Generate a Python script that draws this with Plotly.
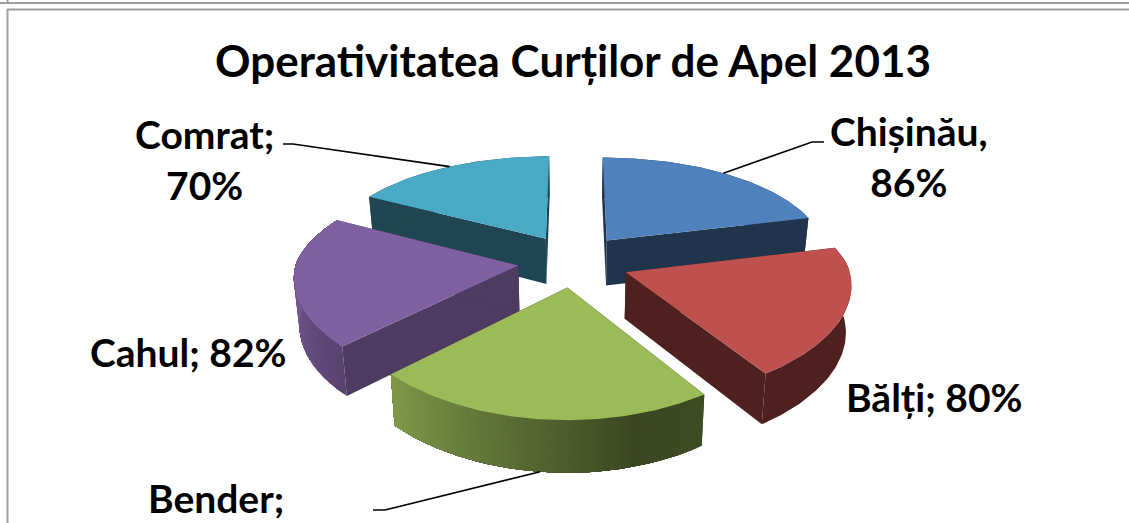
import numpy as np
import plotly.graph_objects as go

categories = ["Chișinău", "Bălți", "Bender", "Cahul", "Comrat"]
values = [86, 80, 90, 82, 70]  # Bender's value is cut off in the picture: estimated from its slice
title_text = "Operativitatea Curților de Apel 2013"
label_texts = ["Chișinău,<br>86%", "Bălți; 80%", "Bender;", "Cahul; 82%", "Comrat;<br>70%"]
top_colors = ["#4F81BD", "#BE504D", "#9BBB59", "#7F60A0", "#4AA9C5"]
draw_order = [4, 0, 3, 1, 2]
wall_stops = [
    ([0, 76], [0.41, 0.41]),
    ([76, 146], [0.41, 0.41]),
    ([146, 165, 226], [0.40, 0.38, 0.82]),
    ([226, 270, 298], [0.70, 0.92, 0.92]),
    ([298, 360], [0.41, 0.41]),
]
face_shade = [0.40, 0.41, 0.40, 0.61, 0.41]
slice_dy = [0, 3, 1, 2, 0]

label_pos = [(909, 156), (934, 397), (216, 498), (188, 352), (204, 159)]
leaders = {0: [(812, 142), (824, 142)], 2: [(385, 510), (373, 510)], 4: [(293, 144), (283, 144)]}

CX, CY, BX, BY, KX_BACK, KX_FRONT, KY = 573.5, 260, 222, 102, 0.14, 0.10, 0.16
EXPLODE, DEPTH, KD, CONVERGE = 0.25, 46, 0.10, 0.98


def project(X, Y, dy=0, bottom=False):
    X, Y = np.asarray(X, float), np.asarray(Y, float)
    kx = np.where(Y > 0, KX_BACK, KX_FRONT)
    sx = CX + BX * X / (1 + kx * Y)
    sy = CY + dy - BY * Y / (1 + KY * Y)
    if bottom:
        sx = CX + (sx - CX) * CONVERGE
        sy = sy + DEPTH / (1 + KD * Y)
    return sx, sy


def tint(hex_color, f):
    r, g, b = [int(hex_color[i:i + 2], 16) for i in (1, 3, 5)]
    return f"rgb({round(r * f)},{round(g * f)},{round(b * f)})"


def poly(xs, ys, color):
    return go.Scatter(x=list(xs), y=list(ys), mode="lines", fill="toself", fillcolor=color,
                      line=dict(color=color, width=0), hoverinfo="skip", showlegend=False)


edges = np.concatenate([[0], np.cumsum(values)]) / np.sum(values) * 360
fig = go.Figure()

for i in draw_order:
    t0, t1 = edges[i], edges[i + 1]
    mid = np.radians((t0 + t1) / 2)
    ax, ay = EXPLODE * np.sin(mid), EXPLODE * np.cos(mid)
    th = np.linspace(t0, t1, 61)
    X = ax + np.sin(np.radians(th))
    Y = ay + np.cos(np.radians(th))
    dy = slice_dy[i]
    tx, ty = project(X, Y, dy)
    bx, by = project(X, Y, dy, True)
    atx, aty = project(ax, ay, dy)
    abx, aby = project(ax, ay, dy, True)
    face_color = tint(top_colors[i], face_shade[i])
    fig.add_trace(poly([atx, tx[0], bx[0], abx], [aty, ty[0], by[0], aby], face_color))
    fig.add_trace(poly([atx, tx[-1], bx[-1], abx], [aty, ty[-1], by[-1], aby], face_color))
    # outer wall: overlapping strips painted one over the next, so no seams show
    stops = wall_stops[i]
    if len(set(stops[1])) == 1:
        fig.add_trace(poly(np.r_[tx, bx[::-1]], np.r_[ty, by[::-1]], tint(top_colors[i], stops[1][0])))
    else:
        for j in range(len(th) - 1):
            f = np.interp((th[j] + th[j + 1]) / 2, *stops)
            fig.add_trace(poly(np.r_[tx[j:], bx[j:][::-1]], np.r_[ty[j:], by[j:][::-1]],
                               tint(top_colors[i], f)))
    fig.add_trace(poly(np.r_[atx, tx], np.r_[aty, ty], top_colors[i]))

    if i in leaders:
        mX, mY = ax + np.sin(mid), ay + np.cos(mid)
        sx, sy = project(mX, mY, dy, i == 2)
        lx = [float(sx)] + [p[0] for p in leaders[i]]
        ly = [float(sy)] + [p[1] for p in leaders[i]]
        fig.add_trace(go.Scatter(x=lx, y=ly, mode="lines", line=dict(color="black", width=1.6),
                                 hoverinfo="skip", showlegend=False))

for text, (x, y) in zip(label_texts, label_pos):
    fig.add_annotation(x=x, y=y, text=text, showarrow=False, xanchor="center", yanchor="middle",
                       align="center", font=dict(family="Lato", size=39, color="black", weight="bold"))

border = dict(color="#9E9E9E", width=2)
fig.add_shape(type="line", x0=0, x1=1129, y0=3, y1=3, line=border)
fig.add_shape(type="line", x0=7, x1=1129, y0=9.5, y1=9.5, line=border)
fig.add_shape(type="line", x0=7.5, x1=7.5, y0=0, y1=3, line=border)
fig.add_shape(type="line", x0=7.5, x1=7.5, y0=9, y1=523, line=border)

fig.update_layout(
    width=1129, height=523, margin=dict(l=0, r=0, t=0, b=0),
    paper_bgcolor="white", plot_bgcolor="white",
    title=dict(text=title_text, x=0.5075, xanchor="center", y=0.882, yanchor="middle",
               font=dict(family="Lato", size=44, color="black", weight="bold")),
    xaxis=dict(range=[0, 1129], visible=False, fixedrange=True),
    yaxis=dict(range=[523, 0], visible=False, fixedrange=True),
)
fig.write_html("out.html", config={"displayModeBar": False},
               post_script="document.body.style.margin='0';document.body.style.overflow='hidden';")
